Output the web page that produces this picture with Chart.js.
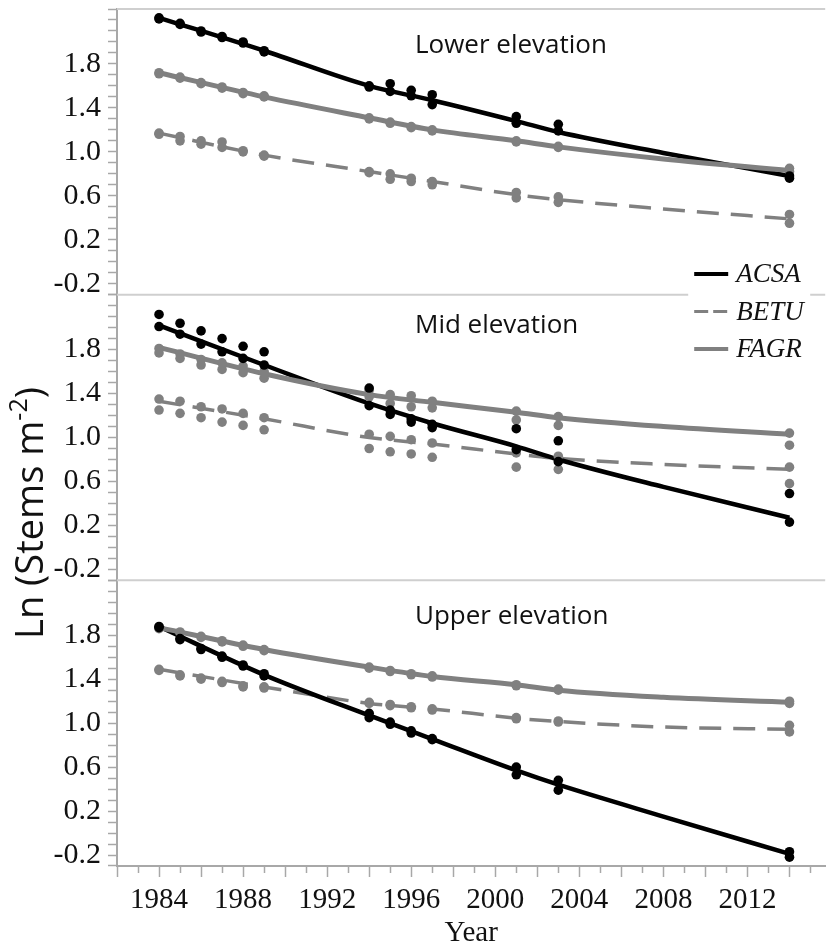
<!DOCTYPE html>
<html>
<head>
<meta charset="utf-8">
<script src="https://cdn.jsdelivr.net/npm/chart.js@4.4.1/dist/chart.umd.min.js"></script>
<style>
  html, body { margin: 0; padding: 0; background: #fff; }
  #wrap { position: relative; width: 830px; height: 951px; }
</style>
</head>
<body>
<div id="wrap"><canvas id="stemsChart" width="830" height="951"></canvas></div>
<script>
// survey years with plot observations
const obsYears = [1984, 1985, 1986, 1987, 1988, 1989, 1994, 1995, 1996, 1997, 2001, 2003, 2014];
const fitYears = [1984, 1989, 1994, 1997, 2001, 2003, 2008, 2014];
const xTickLabels = [1984, 1988, 1992, 1996, 2000, 2004, 2008, 2012];
const yTickLabels = [-0.2, 0.2, 0.6, 1.0, 1.4, 1.8];
const species = ['ACSA', 'BETU', 'FAGR'];
const panelTitles = ['Lower elevation', 'Mid elevation', 'Upper elevation'];

// Lower elevation (two plots per year)
const lowAcsaA = [2.22, 2.17, 2.10, 2.05, 2.00, 1.92, 1.60, 1.62, 1.56, 1.52, 1.32, 1.25, 0.78];
const lowAcsaB = [2.21, 2.16, 2.09, 2.04, 1.99, 1.91, 1.59, 1.55, 1.51, 1.43, 1.26, 1.19, 0.76];
const lowBetuA = [1.17, 1.14, 1.10, 1.09, 1.01, 0.97, 0.82, 0.80, 0.76, 0.73, 0.63, 0.59, 0.43];
const lowBetuB = [1.16, 1.10, 1.07, 1.04, 1.00, 0.96, 0.81, 0.75, 0.73, 0.70, 0.58, 0.54, 0.35];
const lowFagrA = [1.72, 1.68, 1.63, 1.59, 1.54, 1.51, 1.31, 1.27, 1.23, 1.20, 1.10, 1.05, 0.85];
const lowFagrB = [1.71, 1.67, 1.62, 1.58, 1.53, 1.50, 1.30, 1.26, 1.22, 1.19, 1.09, 1.04, 0.82];
const lowAcsaFit = [2.22, 1.92, 1.60, 1.47, 1.28, 1.18, 0.99, 0.78];
const lowBetuFit = [1.17, 0.97, 0.82, 0.73, 0.61, 0.565, 0.48, 0.39];
const lowFagrFit = [1.72, 1.50, 1.31, 1.20, 1.10, 1.045, 0.935, 0.83];

// Mid elevation
const midAcsaA = [2.12, 2.04, 1.97, 1.90, 1.83, 1.78, 1.45, 1.25, 1.17, 1.12, 1.08, 0.97, 0.49];
const midAcsaB = [2.01, 1.94, 1.85, 1.78, 1.72, 1.66, 1.29, 1.21, 1.14, 1.09, 0.89, 0.78, 0.23];
const midBetuA = [1.35, 1.33, 1.28, 1.26, 1.22, 1.18, 1.03, 1.01, 0.98, 0.95, 0.86, 0.83, 0.73];
const midBetuB = [1.25, 1.22, 1.18, 1.14, 1.11, 1.07, 0.90, 0.87, 0.85, 0.82, 0.73, 0.71, 0.58];
const midFagrA = [1.81, 1.76, 1.71, 1.68, 1.65, 1.60, 1.43, 1.39, 1.38, 1.33, 1.24, 1.19, 1.04];
const midFagrB = [1.77, 1.72, 1.66, 1.62, 1.59, 1.54, 1.37, 1.31, 1.28, 1.27, 1.16, 1.11, 0.93];
const midAcsaFit = [2.02, 1.66, 1.31, 1.13, 0.92, 0.80, 0.55, 0.27];
const midBetuFit = [1.33, 1.17, 1.00, 0.94, 0.85, 0.81, 0.755, 0.71];
const midFagrFit = [1.82, 1.58, 1.39, 1.32, 1.23, 1.18, 1.10, 1.03];

// Upper elevation
const upAcsaA = [1.88, 1.77, 1.68, 1.61, 1.53, 1.45, 1.09, 1.01, 0.93, 0.86, 0.60, 0.48, -0.17];
const upAcsaB = [1.87, 1.76, 1.67, 1.60, 1.52, 1.43, 1.05, 0.99, 0.91, 0.85, 0.53, 0.39, -0.22];
const upBetuA = [1.49, 1.44, 1.41, 1.38, 1.34, 1.33, 1.19, 1.17, 1.15, 1.13, 1.05, 1.02, 0.98];
const upBetuB = [1.48, 1.43, 1.40, 1.37, 1.33, 1.32, 1.18, 1.16, 1.14, 1.12, 1.04, 1.01, 0.92];
const upFagrA = [1.87, 1.83, 1.79, 1.75, 1.71, 1.67, 1.51, 1.48, 1.45, 1.43, 1.35, 1.31, 1.20];
const upFagrB = [1.86, 1.82, 1.78, 1.74, 1.70, 1.66, 1.50, 1.47, 1.44, 1.42, 1.34, 1.30, 1.18];
const upAcsaFit = [1.88, 1.44, 1.07, 0.855, 0.57, 0.44, 0.15, -0.19];
const upBetuFit = [1.49, 1.33, 1.18, 1.13, 1.045, 1.015, 0.965, 0.945];
const upFagrFit = [1.87, 1.67, 1.51, 1.425, 1.35, 1.30, 1.235, 1.19];

const GREY = '#808080';
const AXIS_GREY = '#a8a8a8';
const FRAME_GREY = '#cfcfcf';
const SERIF = '"Liberation Serif", "Times New Roman", serif';
const SANS = '"Open Sans", "Noto Sans", sans-serif';

const styles = {
    ACSA: { color: '#000000', width: 4.5, dash: [] },
    BETU: { color: GREY, width: 3.5, dash: [22, 12] },
    FAGR: { color: GREY, width: 5, dash: [] }
};
const lineOrder = { FAGR: 1, ACSA: 2, BETU: 3 };

const panels = [
    { id: 'yLow', fits: { ACSA: lowAcsaFit, BETU: lowBetuFit, FAGR: lowFagrFit },
      obs: { ACSA: [lowAcsaA, lowAcsaB], BETU: [lowBetuA, lowBetuB], FAGR: [lowFagrA, lowFagrB] } },
    { id: 'yMid', fits: { ACSA: midAcsaFit, BETU: midBetuFit, FAGR: midFagrFit },
      obs: { ACSA: [midAcsaA, midAcsaB], BETU: [midBetuA, midBetuB], FAGR: [midFagrA, midFagrB] } },
    { id: 'yUp', fits: { ACSA: upAcsaFit, BETU: upBetuFit, FAGR: upFagrFit },
      obs: { ACSA: [upAcsaA, upAcsaB], BETU: [upBetuA, upBetuB], FAGR: [upFagrA, upFagrB] } }
];

const datasets = [];
panels.forEach(p => {
    species.forEach(sp => {
        const st = styles[sp];
        // dots first so they sit on top
        datasets.push({
            type: 'scatter',
            label: sp + ' plots',
            yAxisID: p.id,
            data: p.obs[sp].flatMap(arr => obsYears.map((yr, i) => ({ x: yr, y: arr[i] }))),
            backgroundColor: st.color,
            borderWidth: 0,
            pointRadius: 4.8,
            order: 0
        });
        datasets.push({
            type: 'line',
            label: sp,
            yAxisID: p.id,
            data: fitYears.map((yr, i) => ({ x: yr, y: p.fits[sp][i] })),
            borderColor: st.color,
            borderWidth: st.width,
            borderDash: st.dash,
            borderCapStyle: 'butt',
            pointRadius: 0,
            fill: false,
            cubicInterpolationMode: 'monotone',
            order: lineOrder[sp]
        });
    });
});

const yScale = (weight) => ({
    type: 'linear',
    position: 'left',
    stack: 'panels',
    stackWeight: 1,
    weight: weight,
    min: -0.3,
    max: 2.3,
    border: { display: true, color: AXIS_GREY, width: 2 },
    grid: { drawOnChartArea: false, drawTicks: true, tickLength: 9, color: AXIS_GREY, tickWidth: 1.5 },
    ticks: {
        stepSize: 0.1,
        autoSkip: false,
        padding: 7,
        color: '#111',
        font: { family: SERIF, size: 30 },
        callback: v => yTickLabels.some(t => Math.abs(t - v) < 1e-6) ? v.toFixed(1) : ''
    },
    afterFit: s => { s.width = 117; s.paddingTop = 0; s.paddingBottom = 0; }
});

// panel frames, titles, legend, y title and short odd-year ticks
const panelDecor = {
    id: 'panelDecor',
    beforeDatasetsDraw(chart) {
        const ctx = chart.ctx;
        const area = chart.chartArea;
        ctx.save();
        ctx.strokeStyle = FRAME_GREY;
        ctx.lineWidth = 2;
        panels.forEach(p => {
            const s = chart.scales[p.id];
            ctx.beginPath();
            ctx.moveTo(area.left, s.top);
            ctx.lineTo(area.right, s.top);
            ctx.stroke();
        });
        ctx.restore();
    },
    afterDatasetsDraw(chart) {
        const ctx = chart.ctx;
        const area = chart.chartArea;
        const xs = chart.scales.x;
        ctx.save();

        // short ticks on odd years
        ctx.strokeStyle = AXIS_GREY;
        ctx.lineWidth = 1.5;
        xs.ticks.forEach(t => {
            if (t.value % 2 !== 0) {
                const px = Math.round(xs.getPixelForValue(t.value)) + 0.5;
                ctx.beginPath();
                ctx.moveTo(px, xs.top);
                ctx.lineTo(px, xs.top + 7);
                ctx.stroke();
            }
        });

        // panel titles
        const titleOffsets = [44, 38.5, 43.5];
        ctx.fillStyle = '#111';
        ctx.font = '26px ' + SANS;
        ctx.textAlign = 'left';
        ctx.textBaseline = 'alphabetic';
        panels.forEach((p, i) => {
            ctx.fillText(panelTitles[i], area.left + 298, chart.scales[p.id].top + titleOffsets[i]);
        });

        // legend
        const lgLeft = area.right - 137;
        ctx.fillStyle = '#ffffff';
        ctx.fillRect(lgLeft, 250, 122, 120);
        ctx.font = 'italic 27px ' + SERIF;
        ctx.textBaseline = 'middle';
        species.forEach((sp, i) => {
            const yy = 274 + i * 37.5;
            ctx.strokeStyle = styles[sp].color;
            ctx.lineWidth = sp === 'BETU' ? 3 : 4;
            ctx.setLineDash(sp === 'BETU' ? [14, 5] : []);
            ctx.beginPath();
            ctx.moveTo(lgLeft + 6, yy);
            ctx.lineTo(lgLeft + 40, yy);
            ctx.stroke();
            ctx.setLineDash([]);
            ctx.fillStyle = '#111';
            ctx.fillText(sp, lgLeft + 48, yy + 1);
        });

        // y axis title with superscript
        ctx.translate(30, 513);
        ctx.rotate(-Math.PI / 2);
        ctx.textBaseline = 'alphabetic';
        const main = 'Ln (Stems m', sup = '-2', tail = ')';
        ctx.font = '38px ' + SANS;
        const wMain = ctx.measureText(main).width;
        const wTail = ctx.measureText(tail).width;
        ctx.font = '25px ' + SANS;
        const wSup = ctx.measureText(sup).width;
        let xx = -(wMain + wSup + wTail) / 2;
        ctx.fillStyle = '#111';
        ctx.font = '38px ' + SANS;
        ctx.fillText(main, xx, 13);
        xx += wMain;
        ctx.font = '25px ' + SANS;
        ctx.fillText(sup, xx, -3);
        xx += wSup;
        ctx.font = '38px ' + SANS;
        ctx.fillText(tail, xx, 13);
        ctx.restore();
    }
};

new Chart(document.getElementById('stemsChart'), {
    type: 'scatter',
    data: { datasets: datasets },
    options: {
        responsive: false,
        animation: false,
        devicePixelRatio: 1,
        events: [],
        layout: { padding: { top: 9, right: 0, bottom: 0, left: 0 } },
        plugins: { legend: { display: false }, tooltip: { enabled: false } },
        scales: {
            x: {
                type: 'linear',
                position: 'bottom',
                min: 1982,
                max: 2015.7,
                border: { display: true, color: AXIS_GREY, width: 2 },
                grid: {
                    drawOnChartArea: false,
                    tickLength: 11,
                    tickWidth: 1.5,
                    color: AXIS_GREY,
                    tickColor: c => (c.tick && c.tick.value % 2 === 0) ? AXIS_GREY : 'rgba(0,0,0,0)'
                },
                ticks: {
                    stepSize: 1,
                    autoSkip: false,
                    maxRotation: 0,
                    includeBounds: false,
                    padding: 6,
                    color: '#111',
                    font: { family: SERIF, size: 29 },
                    callback: v => xTickLabels.includes(v) ? String(v) : ''
                },
                title: {
                    display: true,
                    text: 'Year',
                    color: '#111',
                    font: { family: SERIF, size: 29 },
                    padding: { top: 0, bottom: 0 }
                },
                afterFit: s => { s.height = 85; s.paddingLeft = 0; s.paddingRight = 0; }
            },
            yUp: yScale(1),
            yMid: yScale(2),
            yLow: yScale(3)
        }
    },
    plugins: [panelDecor]
});
</script>
</body>
</html>
